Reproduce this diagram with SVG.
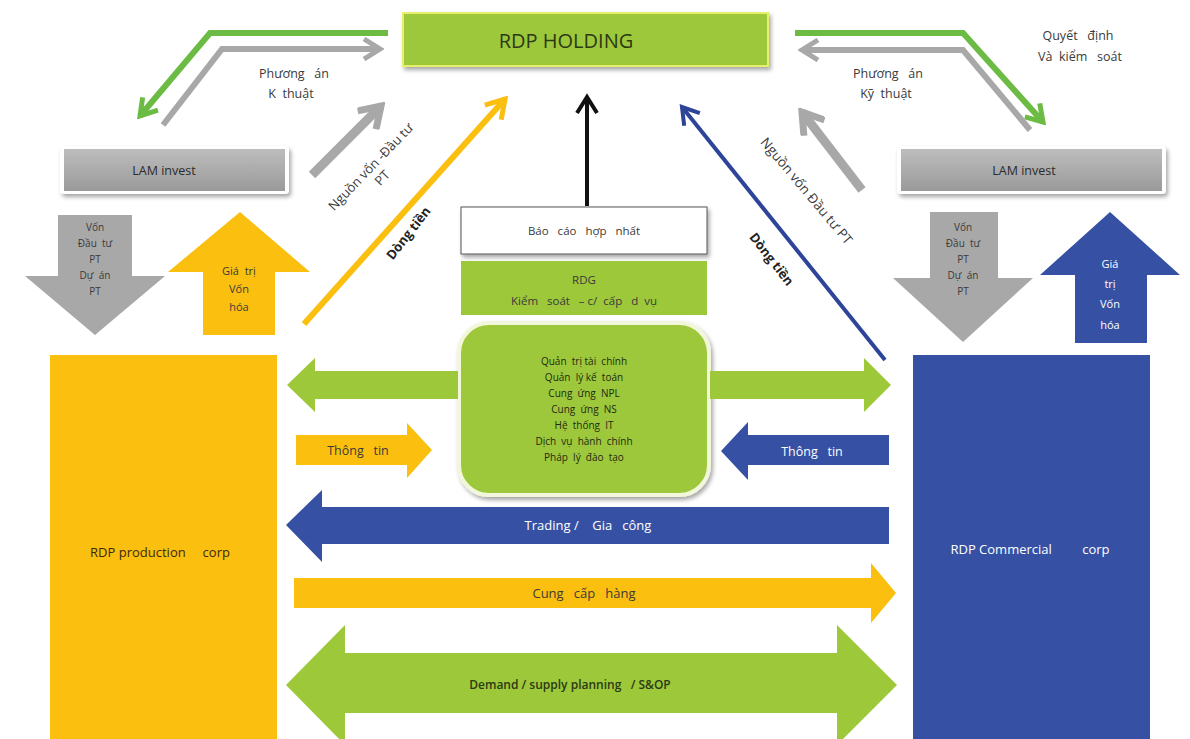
<svg xmlns="http://www.w3.org/2000/svg" width="1190" height="739" viewBox="0 0 1190 739">
<defs>
<style>
text{font-family:"Open Sans","Liberation Sans",sans-serif;text-anchor:middle;white-space:pre}
.lbl{font-size:12.5px;fill:#3a3a3a}
.sm{font-size:10px;fill:#1f2a10}
.lime{fill:#9dc83a}
.yel{fill:#fbbf10}
.blu{fill:#3651a3}
.gry{fill:#a8a8a8}
.line{fill:none;stroke-linejoin:miter}
</style>
<filter id="sh" x="-10%" y="-10%" width="130%" height="150%">
<feDropShadow dx="2" dy="3" stdDeviation="2" flood-color="#000" flood-opacity="0.35"/>
</filter>
<linearGradient id="gg" x1="0" y1="0" x2="0" y2="1">
<stop offset="0" stop-color="#bdbdbd"/>
<stop offset="1" stop-color="#9a9a9a"/>
</linearGradient>
<marker id="mGreen" viewBox="0 0 24 24" markerWidth="24" markerHeight="24" markerUnits="userSpaceOnUse" refX="20" refY="12" orient="auto">
<path d="M4,2 L20,12 L4,22" fill="none" stroke="#6cbb45" stroke-width="5"/>
</marker>
<marker id="mGray" viewBox="0 0 24 24" markerWidth="24" markerHeight="24" markerUnits="userSpaceOnUse" refX="20" refY="12" orient="auto">
<path d="M4,2 L20,12 L4,22" fill="none" stroke="#a8a8a8" stroke-width="5"/>
</marker>
<marker id="mGrayB" viewBox="0 0 30 30" markerWidth="30" markerHeight="30" markerUnits="userSpaceOnUse" refX="25" refY="15" orient="auto">
<path d="M5,2 L25,15 L5,28" fill="none" stroke="#a8a8a8" stroke-width="7"/>
</marker>
<marker id="mYel" viewBox="0 0 26 26" markerWidth="26" markerHeight="26" markerUnits="userSpaceOnUse" refX="22" refY="13" orient="auto">
<path d="M4,2 L22,13 L4,24" fill="none" stroke="#fbbf10" stroke-width="5"/>
</marker>
<marker id="mBlue" viewBox="0 0 24 24" markerWidth="24" markerHeight="24" markerUnits="userSpaceOnUse" refX="20" refY="12" orient="auto">
<path d="M4,2 L20,12 L4,22" fill="none" stroke="#2d4499" stroke-width="4"/>
</marker>
<marker id="mBlack" viewBox="0 0 24 24" markerWidth="24" markerHeight="24" markerUnits="userSpaceOnUse" refX="20" refY="12" orient="auto">
<path d="M4,2 L20,12 L4,22" fill="none" stroke="#111" stroke-width="4"/>
</marker>
</defs>
<rect width="1190" height="739" fill="#ffffff"/>

<g id="n-holding">
<rect x="403" y="13" width="365" height="53" class="lime" stroke="#e6f06a" stroke-width="2" filter="url(#sh)"/>
<text x="566" y="48" style="font-size:20px;fill:#2b3a14">RDP HOLDING</text>
</g>

<g id="n-lam-left">
<rect x="60" y="146" width="229" height="48" rx="4" fill="#ffffff" filter="url(#sh)"/>
<rect x="64" y="149" width="221" height="42" fill="url(#gg)"/>
<text class="lbl" x="164" y="175" style="fill:#2a2a2a">LAM invest</text>
</g>

<g id="n-lam-right">
<rect x="897" y="146" width="269" height="48" rx="4" fill="#ffffff" filter="url(#sh)"/>
<rect x="901" y="149" width="261" height="42" fill="url(#gg)"/>
<text class="lbl" x="1024" y="175" style="fill:#2a2a2a">LAM invest</text>
</g>

<g id="n-baocao">
<rect x="461" y="207" width="246" height="47" fill="#ffffff" stroke="#555" stroke-width="1" filter="url(#sh)"/>
<text class="lbl" x="584" y="235" style="font-size:11.5px">Báo   cáo   hợp   nhất</text>
</g>

<g id="n-rdg">
<rect x="461" y="261" width="246" height="54" class="lime"/>
<text class="lbl" x="584" y="284" style="font-size:11.5px">RDG</text>
<text class="lbl" x="584" y="305" style="font-size:11.5px">Kiểm   soát   – c/  cấp   d  vụ</text>
</g>

<g id="n-services">
<rect x="459" y="323" width="250" height="172" rx="30" class="lime" stroke="#f2f7dc" stroke-width="4" filter="url(#sh)"/>
<text class="sm" x="584" y="365">Quản  trị tài  chính</text>
<text class="sm" x="584" y="381">Quản  lý kế  toán</text>
<text class="sm" x="584" y="397">Cung  ứng  NPL</text>
<text class="sm" x="584" y="413">Cung  ứng  NS</text>
<text class="sm" x="584" y="429">Hệ  thống  IT</text>
<text class="sm" x="584" y="445">Dịch  vụ  hành  chính</text>
<text class="sm" x="584" y="461">Pháp  lý  đào  tạo</text>
</g>

<g id="n-prod">
<rect x="50" y="355" width="227" height="390" class="yel"/>
<text x="160" y="557" style="font-size:13px;fill:#3a2a10">RDP production     corp</text>
</g>

<g id="n-comm">
<rect x="913" y="355" width="237" height="390" class="blu"/>
<text x="1030" y="554" style="font-size:13px;fill:#ffffff">RDP Commercial         corp</text>
</g>

<g id="connectors">
<path class="line" d="M388,33 L210,33 L140,116" stroke="#6cbb45" stroke-width="6" marker-end="url(#mGreen)"/>
<path class="line" d="M163,125 L222,49 L380,49" stroke="#a8a8a8" stroke-width="6" marker-end="url(#mGray)"/>
<text class="lbl" x="294" y="78">Phương   án</text>
<text class="lbl" x="291" y="98">K  thuật</text>

<path class="line" d="M795,33 L963,33 L1043,122" stroke="#6cbb45" stroke-width="6" marker-end="url(#mGreen)"/>
<path class="line" d="M1030,130 L963,50 L802,50" stroke="#a8a8a8" stroke-width="6" marker-end="url(#mGray)"/>
<text class="lbl" x="1078" y="40">Quyết   định</text>
<text class="lbl" x="1080" y="61">Và  kiểm   soát</text>
<text class="lbl" x="888" y="78">Phương   án</text>
<text class="lbl" x="886" y="98">Kỹ  thuật</text>

<path class="line" d="M312,175 L381,106" stroke="#a8a8a8" stroke-width="9" marker-end="url(#mGrayB)"/>
<path class="line" d="M862,190 L802,112" stroke="#a8a8a8" stroke-width="9" marker-end="url(#mGrayB)"/>
<g transform="translate(374,170) rotate(-46)">
<text class="lbl" x="0" y="0" style="font-size:13px">Nguồn vốn -Đầu tư</text>
<text class="lbl" x="0" y="16" style="font-size:13px">PT</text>
</g>
<g transform="translate(803,194) rotate(50)">
<text class="lbl" x="0" y="0" style="font-size:13.5px">Nguồn vốn Đầu tư PT</text>
</g>

<path class="line" d="M304,324 L505,99" stroke="#fbbf10" stroke-width="6" marker-end="url(#mYel)"/>
<path class="line" d="M885,360 L682,107" stroke="#2d4499" stroke-width="4" marker-end="url(#mBlue)"/>
<g transform="translate(412,236) rotate(-52)">
<text x="0" y="0" style="font-size:13px;font-weight:bold;fill:#222">Dòng tiền</text>
</g>
<g transform="translate(768,262) rotate(52)">
<text x="0" y="0" style="font-size:13px;font-weight:bold;fill:#222">Dòng tiền</text>
</g>

<path class="line" d="M587,206 L587,97" stroke="#111" stroke-width="4" marker-end="url(#mBlack)"/>

<polygon class="gry" points="58,215 132,215 132,276 165,276 95,335 25,276 58,276"/>
<text class="lbl" x="95" y="231" style="font-size:10px">Vốn</text>
<text class="lbl" x="95" y="247" style="font-size:10px">Đầu  tư</text>
<text class="lbl" x="95" y="263" style="font-size:10px">PT</text>
<text class="lbl" x="95" y="279" style="font-size:10px">Dự  án</text>
<text class="lbl" x="95" y="295" style="font-size:10px">PT</text>

<polygon class="yel" points="240,212 310,272 275,272 275,335 203,335 203,272 168,272"/>
<text class="lbl" x="239" y="275" style="font-size:11px">Giá  trị</text>
<text class="lbl" x="239" y="293" style="font-size:11px">Vốn</text>
<text class="lbl" x="239" y="311" style="font-size:11px">hóa</text>

<polygon class="gry" points="930,212 998,212 998,278 1033,278 963,342 893,278 930,278"/>
<text class="lbl" x="963" y="231" style="font-size:10px">Vốn</text>
<text class="lbl" x="963" y="247" style="font-size:10px">Đầu  tư</text>
<text class="lbl" x="963" y="263" style="font-size:10px">PT</text>
<text class="lbl" x="963" y="279" style="font-size:10px">Dự  án</text>
<text class="lbl" x="963" y="295" style="font-size:10px">PT</text>

<polygon class="blu" points="1110,212 1180,275 1147,275 1147,343 1075,343 1075,275 1040,275"/>
<text x="1110" y="268" style="font-size:11px;fill:#fff">Giá</text>
<text x="1110" y="288" style="font-size:11px;fill:#fff">trị</text>
<text x="1110" y="308" style="font-size:11px;fill:#fff">Vốn</text>
<text x="1110" y="329" style="font-size:11px;fill:#fff">hóa</text>

<polygon class="lime" points="458,371 315,371 315,358 287,385 315,412 315,399 458,399"/>
<polygon class="lime" points="710,371 864,371 864,358 891,385 864,412 864,399 710,399"/>

<polygon class="yel" points="296,435 407,435 407,423 432,450 407,478 407,465 296,465"/>
<text class="lbl" x="358" y="455">Thông   tin</text>

<polygon class="blu" points="889,435 748,435 748,422 721,451 748,480 748,465 889,465"/>
<text x="812" y="456" style="font-size:12.5px;fill:#fff">Thông   tin</text>

<polygon class="blu" points="889,507 322,507 322,490 286,525 322,562 322,544 889,544"/>
<text x="588" y="530" style="font-size:13px;fill:#fff">Trading /    Gia   công</text>

<polygon class="yel" points="294,578 871,578 871,563 896,593 871,623 871,608 294,608"/>
<text class="lbl" x="584" y="598" style="font-size:13px">Cung   cấp   hàng</text>

<polygon class="lime" points="286,685 345,625 345,653 837,653 837,625 897,685 837,745 837,713 345,713 345,745"/>
<text x="570" y="689" style="font-size:12px;font-weight:600;fill:#2b3a14">Demand / supply planning   / S&amp;OP</text>
</g>
</svg>
